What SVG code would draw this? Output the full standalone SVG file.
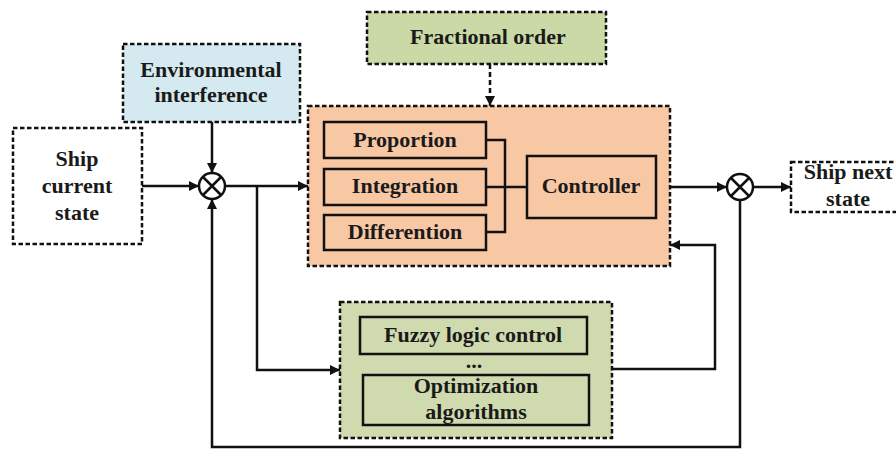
<svg xmlns="http://www.w3.org/2000/svg" width="896" height="449" viewBox="0 0 896 449">
<defs>
<marker id="ah" viewBox="0 0 10 10" refX="10" refY="5" markerWidth="14" markerHeight="10" markerUnits="userSpaceOnUse" orient="auto"><path d="M0,0 L10,5 L0,10 z" fill="#111"/></marker>
<style>
.dash{stroke:#111;stroke-width:2.5;stroke-dasharray:4.5,2.5}
.solid{fill:#f8c7a4;stroke:#111;stroke-width:2.5}
.solidg{fill:#cfdbae;stroke:#111;stroke-width:2.5}
.t{font-family:"Liberation Serif","Times New Roman",serif;font-weight:bold;font-size:22px;fill:#1a1a1a;text-anchor:middle}
.ln{fill:none;stroke:#111;stroke-width:2.5}
</style>
</defs>
<rect width="896" height="449" fill="#fff"/>
<g id="ship-current">
<rect x="13" y="128" width="129" height="116" fill="#fff" class="dash"/>
<text class="t" x="77" y="166">Ship</text>
<text class="t" x="77" y="193">current</text>
<text class="t" x="77" y="220">state</text>
</g>
<g id="env">
<rect x="123" y="44" width="177" height="78" fill="#d5eaf0" class="dash"/>
<text class="t" x="211" y="77">Environmental</text>
<text class="t" x="211" y="102">interference</text>
</g>
<g id="fractional">
<rect x="367" y="12" width="239" height="52" fill="#cad9a6" class="dash"/>
<text class="t" x="488" y="44">Fractional order</text>
</g>
<g id="controller-group">
<rect x="308" y="106" width="362" height="160" fill="#f8c7a4" class="dash"/>
<rect x="324" y="122" width="162" height="36" class="solid"/>
<text class="t" x="405" y="147">Proportion</text>
<rect x="324" y="169" width="162" height="36" class="solid"/>
<text class="t" x="405" y="193">Integration</text>
<rect x="324" y="215" width="162" height="35" class="solid"/>
<text class="t" x="405" y="239">Differention</text>
<rect x="527" y="156" width="129" height="62" class="solid"/>
<text class="t" x="591" y="193">Controller</text>
</g>
<g id="optim-group">
<rect x="340" y="302" width="272" height="136" fill="#cfdbae" class="dash"/>
<rect x="360" y="317" width="227" height="37" class="solidg"/>
<text class="t" x="473" y="342">Fuzzy logic control</text>
<text class="t" x="474" y="368">...</text>
<rect x="363" y="375" width="226" height="50" class="solidg"/>
<text class="t" x="476" y="393">Optimization</text>
<text class="t" x="476" y="419">algorithms</text>
</g>
<g id="ship-next">
<rect x="791" y="162" width="112" height="50" fill="#fff" class="dash"/>
<text class="t" x="848" y="179">Ship next</text>
<text class="t" x="848" y="206">state</text>
</g>
<g id="sum1">
<circle cx="212" cy="186" r="13" fill="#fff" stroke="#111" stroke-width="2.5"/>
<path d="M203,177 L221,195 M221,177 L203,195" class="ln"/>
</g>
<g id="sum2">
<circle cx="740" cy="187" r="13" fill="#fff" stroke="#111" stroke-width="2.5"/>
<path d="M731,178 L749,196 M749,178 L731,196" class="ln"/>
</g>
<g id="connectors">
<path d="M142,186 H199" class="ln" marker-end="url(#ah)"/>
<path d="M212,122 V173" class="ln" marker-end="url(#ah)"/>
<path d="M225,186 H308" class="ln" marker-end="url(#ah)"/>
<path d="M257,186 V370 H340" class="ln" marker-end="url(#ah)"/>
<path d="M490,64 V106" class="ln" stroke-dasharray="5,3" marker-end="url(#ah)"/>
<path d="M486,140 H505 V232 H486 M486,187 H527" class="ln"/>
<path d="M670,187 H727" class="ln" marker-end="url(#ah)"/>
<path d="M753,187 H791" class="ln" marker-end="url(#ah)"/>
<path d="M612,369 H715 V245 H670" class="ln" marker-end="url(#ah)"/>
<path d="M740,200 V447 H212 V199" class="ln" marker-end="url(#ah)"/>
</g>
</svg>
